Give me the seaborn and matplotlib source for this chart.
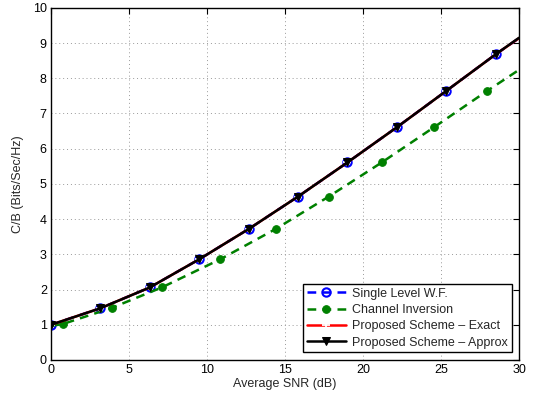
import matplotlib
matplotlib.use("Agg")
import matplotlib.pyplot as plt
import seaborn as sns
import numpy as np

# Data
snr_main = [0.0, 3.17, 6.33, 9.5, 12.67, 15.83, 19.0, 22.17, 25.33, 28.5, 30.0]
cap_wf = [1.00, 1.47, 2.06, 2.86, 3.72, 4.64, 5.61, 6.61, 7.64, 8.68, 9.14]
cap_exact = [1.00, 1.47, 2.06, 2.86, 3.72, 4.64, 5.61, 6.61, 7.64, 8.68, 9.14]
cap_approx = [1.00, 1.47, 2.06, 2.86, 3.72, 4.64, 5.61, 6.61, 7.64, 8.68, 9.15]
snr_ci = [0.0, 0.75, 3.9, 7.1, 10.85, 14.4, 17.8, 21.2, 24.55, 27.95, 30.0]
cap_ci = [0.97, 1.02, 1.48, 2.06, 2.86, 3.72, 4.64, 5.61, 6.61, 7.64, 8.24]

labels = ["Single Level W.F.", "Channel Inversion",
          "Proposed Scheme \u2013 Exact", "Proposed Scheme \u2013 Approx"]
x_ticks = [0, 5, 10, 15, 20, 25, 30]
y_ticks = list(range(0, 11))

sns.set_style("white")
plt.rcParams['font.family'] = ['Liberation Sans', 'DejaVu Sans']

fig = plt.figure(figsize=(5.34, 3.93), dpi=100)
ax = fig.add_axes([0.0955, 0.084, 0.8765, 0.896])

mk_main = list(range(10))
mk_ci = list(range(1, 10))

sns.lineplot(x=snr_main, y=cap_wf, ax=ax, sort=False, color="blue",
             linestyle=(0, (3.5, 2.5)), linewidth=1.8, marker="o", markersize=6,
             markerfacecolor="none", markeredgecolor="blue", markeredgewidth=1.5,
             markevery=mk_main, label=labels[0])
sns.lineplot(x=snr_ci, y=cap_ci, ax=ax, sort=False, color="#008000",
             linestyle=(0, (3.5, 2.5)), linewidth=1.8, marker="o", markersize=5.5,
             markerfacecolor="#008000", markeredgecolor="#008000",
             markevery=mk_ci, label=labels[1])
sns.lineplot(x=snr_main, y=cap_exact, ax=ax, sort=False, color="red",
             linestyle="-", linewidth=1.8, marker="+", markersize=6,
             markeredgewidth=1.3, markevery=mk_main, label=labels[2])
sns.lineplot(x=snr_main, y=cap_approx, ax=ax, sort=False, color="black",
             linestyle="-", linewidth=1.8, marker="v", markersize=6,
             markerfacecolor="black", markeredgecolor="black",
             markevery=mk_main, label=labels[3])

ax.set_xlim(0, 30)
ax.set_ylim(0, 10)
ax.set_xticks(x_ticks)
ax.set_yticks(y_ticks)
ax.tick_params(direction="in", length=4, width=0.8, labelsize=9,
               top=True, right=True, colors="black", pad=3)
ax.grid(True, linestyle=(0, (1, 3)), color="#999999", linewidth=0.7)
for s in ax.spines.values():
    s.set_color("black")
    s.set_linewidth(1.0)
ax.set_xlabel("Average SNR (dB)", fontsize=9, labelpad=1)
ax.set_ylabel("C/B (Bits/Sec/Hz)", fontsize=9, labelpad=6)

leg = ax.legend(loc="lower right", fontsize=9, frameon=True, fancybox=False,
                edgecolor="black", framealpha=1, handlelength=3.1,
                borderaxespad=0.6, borderpad=0.3, labelspacing=0.35,
                handletextpad=0.5)
leg.get_frame().set_linewidth(1.0)

fig.savefig("out.png", dpi=100)
